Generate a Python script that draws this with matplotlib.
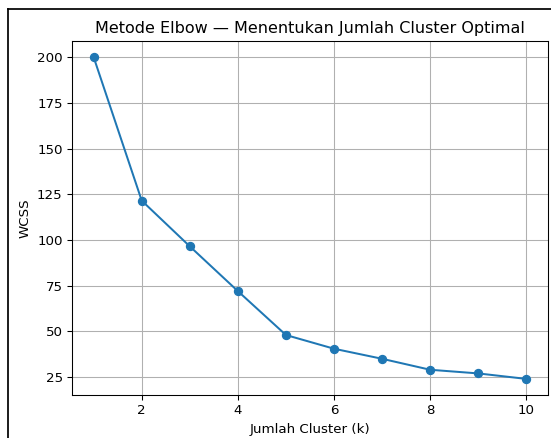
import matplotlib
matplotlib.use("Agg")
import matplotlib.pyplot as plt
from matplotlib.lines import Line2D

# jumlah cluster dan nilai WCSS hasil perhitungan
k_values = [1, 2, 3, 4, 5, 6, 7, 8, 9, 10]
wcss = [200.0, 121.5, 96.5, 72.0, 48.0, 40.5, 35.0, 29.0, 27.0, 24.0]

W, H, DPI = 551, 438, 96
fig = plt.figure(figsize=(W / DPI, H / DPI), dpi=DPI)
ax = fig.add_axes([72 / W, 43 / H, 476 / W, 354 / H])

ax.plot(k_values, wcss, marker='o')
ax.set_title("Metode Elbow — Menentukan Jumlah Cluster Optimal")
ax.set_xlabel("Jumlah Cluster (k)")
ax.set_ylabel("WCSS")
ax.grid(True)

# bingkai halaman (kiri dan atas)
fig.add_artist(Line2D([8 / W, 8 / W], [0, 1 - 9 / H], color='black', linewidth=1.3, transform=fig.transFigure))
fig.add_artist(Line2D([8 / W, 1], [1 - 9 / H, 1 - 9 / H], color='black', linewidth=1.3, transform=fig.transFigure))

fig.savefig("out.png", dpi=DPI)
